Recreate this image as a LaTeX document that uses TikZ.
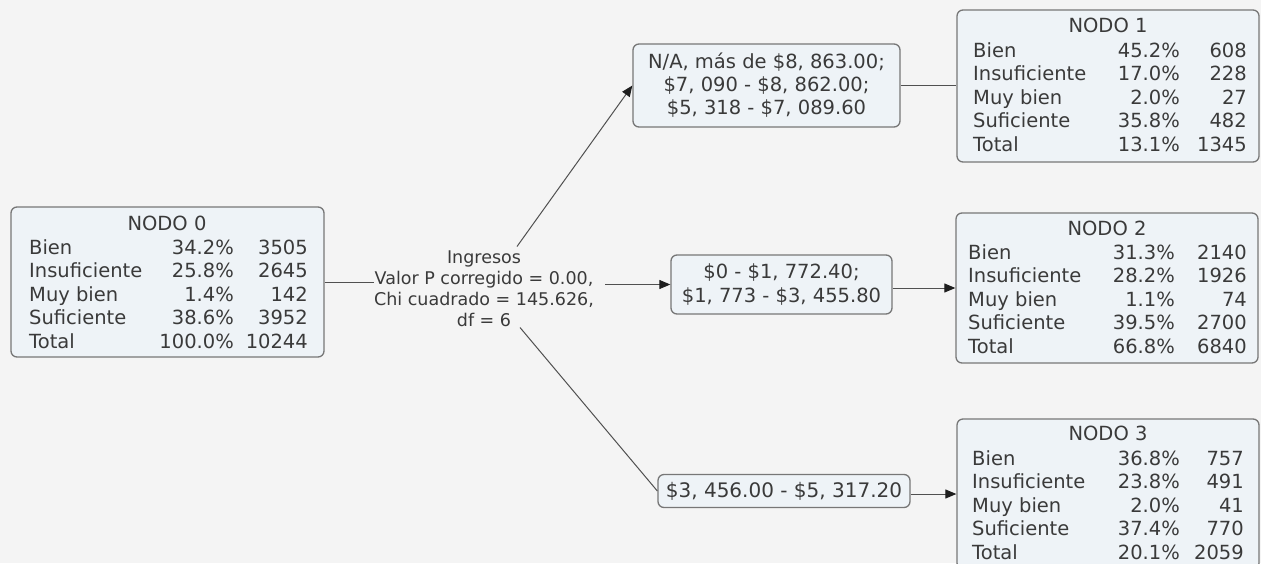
\documentclass[tikz,border=0pt]{standalone}
\usepackage{fontspec}
\setmainfont{DejaVu Sans}
\usetikzlibrary{arrows.meta}
\definecolor{canvas}{HTML}{F4F4F4}
\definecolor{boxfill}{HTML}{EEF3F7}
\definecolor{boxline}{HTML}{777777}
\definecolor{ink}{HTML}{3A3A3A}
\definecolor{wirecol}{HTML}{505050}
\definecolor{tipcol}{HTML}{1E1E1E}

% one table of category rows: name prefix, label x, percent right x, count right x, first row y, rows
\newcommand\tablerows[6]{%
  \foreach \lab/\pct/\cnt [count=\i] in {#6}{%
    \pgfmathsetmacro\yy{#5+(\i-1)*23.5+7}%
    \node[txt,anchor=base west] (#1-l\i) at (#2,\yy) {\lab};
    \node[txt,anchor=base east] (#1-p\i) at (#3,\yy) {\pct};
    \node[txt,anchor=base east] (#1-c\i) at (#4,\yy) {\cnt};
  }}

\begin{document}
\begin{tikzpicture}[x=1pt,y=-1pt,
  txt/.style={text=ink,font=\fontsize{19.5}{22.5}\selectfont,inner sep=0pt},
  statbox/.style={draw=boxline,fill=boxfill,rounded corners=6pt,line width=1.3pt,
    inner sep=0pt,minimum width=#1},
  statbox/.default=302pt,
  rangebox/.style={draw=boxline,fill=boxfill,rounded corners=6pt,line width=1.3pt,
    inner sep=0pt,align=center,text=ink,font=\fontsize{19.5}{23}\selectfont},
  wire/.style={draw=wirecol,line width=1pt},
  tip/.style={-{Triangle[length=11pt,width=9pt,color=tipcol]}}
]
\fill[canvas] (0,0) rectangle (1261,563);
\useasboundingbox (0,0) rectangle (1261,563);
\clip (0,0) rectangle (1261,563);

% root node
\node[statbox=313pt,minimum height=150pt] (n0) at (167.5,282) {};
\node[txt] (n0-t) at (167,223) {NODO 0};
\tablerows{n0}{29}{234}{308}{247}{Bien/34.2\%/3505,Insuficiente/25.8\%/2645,Muy bien/1.4\%/142,Suficiente/38.6\%/3952,Total/100.0\%/10244}

% split label
\node[txt,align=center,font=\fontsize{17.5}{21}\selectfont] (split) at (484,288.5)
  {Ingresos\\Valor P corregido = 0.00,\\Chi cuadrado = 145.626,\\df = 6};

% income ranges
\node[rangebox,minimum width=267pt,minimum height=83pt] (b1) at (766.5,85.5)
  {N/A, más de \$8, 863.00;\\\$7, 090 - \$8, 862.00;\\\$5, 318 - \$7, 089.60};
\node[rangebox,minimum width=221pt,minimum height=59pt,font=\fontsize{19.5}{24}\selectfont] (b2) at (781.5,284.5)
  {\$0 - \$1, 772.40;\\\$1, 773 - \$3, 455.80};
\node[rangebox,minimum width=252pt,minimum height=33pt,font=\fontsize{20}{23}\selectfont] (b3) at (784,491)
  {\$3, 456.00 - \$5, 317.20};

% child nodes
\node[statbox,minimum height=152pt] (n1) at (1108,86) {};
\node[txt] (n1-t) at (1108,25) {NODO 1};
\tablerows{n1}{973}{1180}{1247}{50}{Bien/45.2\%/608,Insuficiente/17.0\%/228,Muy bien/2.0\%/27,Suficiente/35.8\%/482,Total/13.1\%/1345}

\node[statbox,minimum height=150pt] (n2) at (1107,288) {};
\node[txt] (n2-t) at (1107,228) {NODO 2};
\tablerows{n2}{968}{1175}{1247}{252}{Bien/31.3\%/2140,Insuficiente/28.2\%/1926,Muy bien/1.1\%/74,Suficiente/39.5\%/2700,Total/66.8\%/6840}

\node[statbox,minimum height=150pt] (n3) at (1108,494) {};
\node[txt] (n3-t) at (1108,433) {NODO 3};
\tablerows{n3}{972}{1180}{1244}{458}{Bien/36.8\%/757,Insuficiente/23.8\%/491,Muy bien/2.0\%/41,Suficiente/37.4\%/770,Total/20.1\%/2059}

% connectors (shifts are in canvas units: positive yshift points up)
\draw[wire] (n0.east) -- (n0.east -| split.west);
\draw[wire,tip] ([xshift=33pt,yshift=42pt]split.center) -- (b1.west);
\draw[wire,tip] ([xshift=11pt]split.east |- b2.west) -- (b2.west);
\draw[wire] ([xshift=36pt,yshift=-39pt]split.center) -- (b3.west);
\draw[wire] (b1.east) -- (b1.east -| n1.west);
\draw[wire,tip] (b2.east |- n2.west) -- (n2.west);
\draw[wire,tip] (b3.east |- n3.west) -- (n3.west);
\end{tikzpicture}
\end{document}
